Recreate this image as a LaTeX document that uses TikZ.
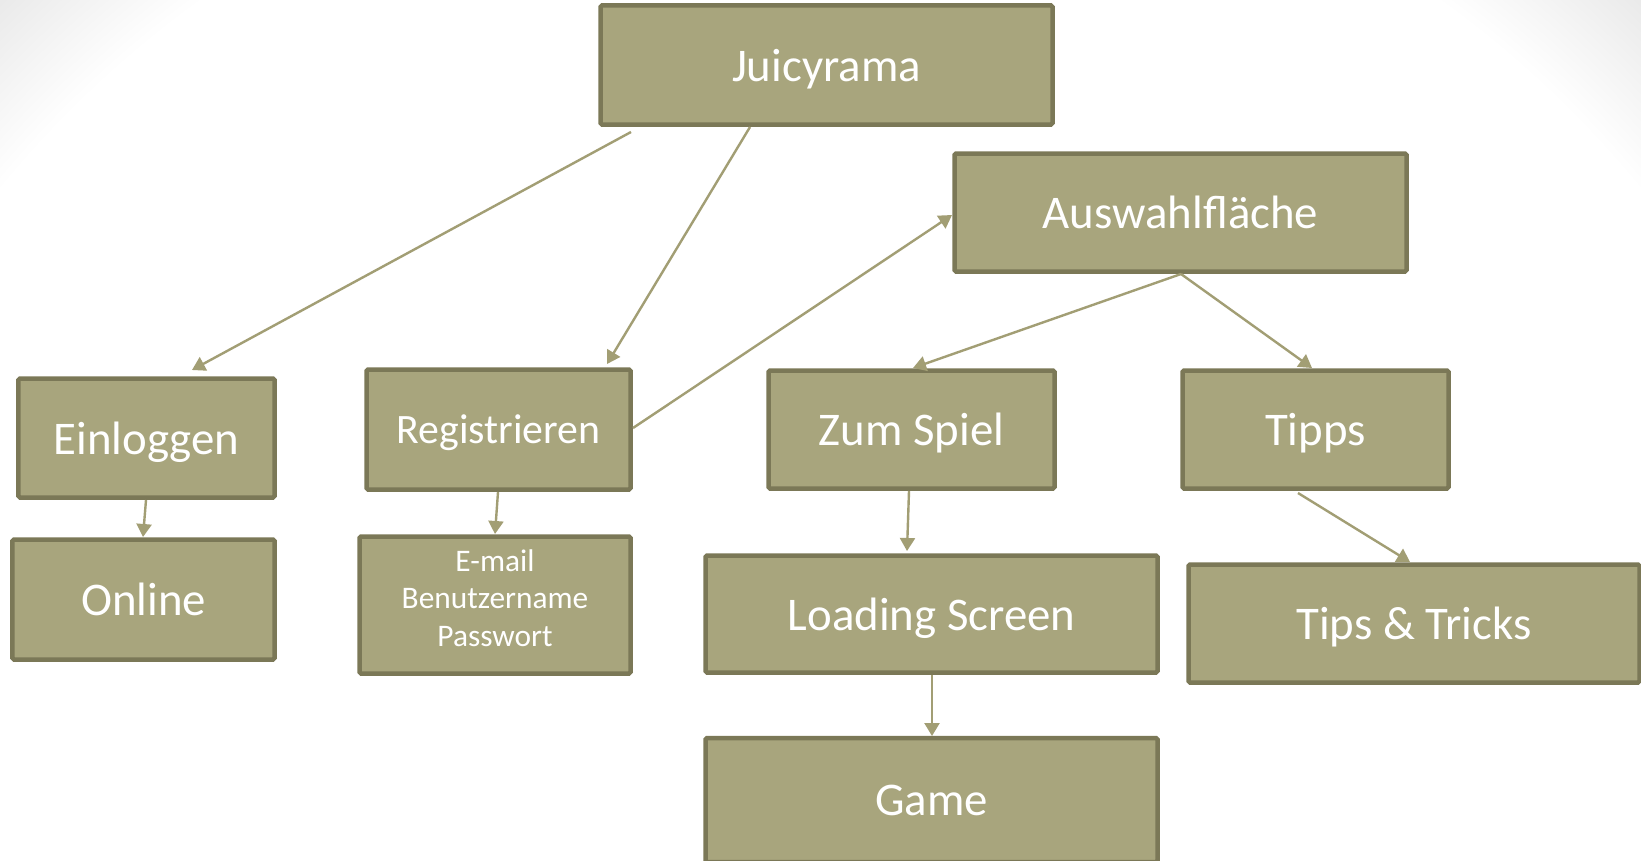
\documentclass[tikz,border=0pt]{standalone}
\usepackage{fontspec}
\setmainfont{Carlito}
\usetikzlibrary{arrows.meta}
\definecolor{boxfill}{HTML}{A8A57D}
\definecolor{boxline}{HTML}{7B7857}
\definecolor{arrowcol}{HTML}{A29E74}
\pgfdeclareradialshading{vign}{\pgfpointorigin}{color(0bp)=(white); color(21.5bp)=(white); color(25bp)=(black!11); color(50bp)=(black!11)}
\tikzset{
  box/.style={draw=boxline, fill=boxfill, line width=4.5bp, rounded corners=1.5bp,
    text=white, inner sep=0pt, align=center, text depth=0pt, font=\fontsize{47}{56}\selectfont},
  conn/.style={draw=arrowcol, line width=2.4bp, -{Triangle[width=15bp,length=13bp]}}
}
\begin{document}
\begin{tikzpicture}[x=1bp,y=-1bp]
\useasboundingbox (0,0) rectangle (1641,860);
\begin{scope}
\clip (0,0) rectangle (1641,860);
\fill[white] (0,0) rectangle (1641,860);
\shade[shading=vign] (820,860) circle (1230);
\end{scope}

\node[box, minimum width=452bp, minimum height=119bp] (juicy) at (826.5,65) {Juicyrama};
\node[box, minimum width=452bp, minimum height=118bp] (ausw) at (1180.5,212.5) {Auswahlfläche};
\node[box, minimum width=256bp, minimum height=119bp, text depth=-2bp] (ein) at (146.5,438) {Einloggen};
\node[box, minimum width=262bp, minimum height=120bp] (online) at (143.5,599.5) {Online};
\node[box, minimum width=264bp, minimum height=120bp, text depth=-3bp, font=\fontsize{42}{50}\selectfont] (reg) at (498.5,429.5) {Registrieren};
\node[box, minimum width=271bp, minimum height=137bp, text depth=14.5bp, font=\fontsize{31.5}{37.7}\selectfont] (email) at (495,605) {E-mail\\Benutzername\\Passwort};
\node[box, minimum width=286bp, minimum height=118bp, text depth=-3bp] (zum) at (911.5,429.5) {Zum Spiel};
\node[box, minimum width=266bp, minimum height=118bp, text depth=-3bp] (tipps) at (1315.5,429.5) {Tipps};
\node[box, minimum width=452bp, minimum height=117bp, text depth=-3bp] (load) at (931.5,614) {Loading Screen};
\node[box, minimum width=451bp, minimum height=118bp, text depth=-3bp] (tt) at (1414,623.5) {Tips \& Tricks};
\node[box, minimum width=452bp, minimum height=124bp] (game) at (931.5,800) {Game};

\draw[conn] ([shift={(-195.5,67)}]juicy.center) -- ([shift={(45.5,-68)}]ein.center);
\draw[conn] ([shift={(-76.5,62)}]juicy.center) -- ([shift={(108.5,-65.5)}]reg.center);
\draw[conn] ([shift={(134.5,-1.5)}]reg.center) -- ([shift={(-228.5,2.5)}]ausw.center);
\draw[conn] ([shift={(0.5,61.5)}]ausw.center) -- ([shift={(1.5,-61.5)}]zum.center);
\draw[conn] ([shift={(0.5,61.5)}]ausw.center) -- ([shift={(-3.5,-61.5)}]tipps.center);
\draw[conn] ([shift={(-0.5,62)}]ein.center) -- ([shift={(-0.5,-62.5)}]online.center);
\draw[conn] ([shift={(-0.5,62.5)}]reg.center) -- ([shift={(0,-71)}]email.center);
\draw[conn] ([shift={(-2.5,61.5)}]zum.center) -- ([shift={(-24.5,-63)}]load.center);
\draw[conn] ([shift={(0.5,61)}]load.center) -- ([shift={(0.5,-64)}]game.center);
\draw[conn] ([shift={(-17.5,63.5)}]tipps.center) -- ([shift={(-4,-61.5)}]tt.center);
\end{tikzpicture}
\end{document}
